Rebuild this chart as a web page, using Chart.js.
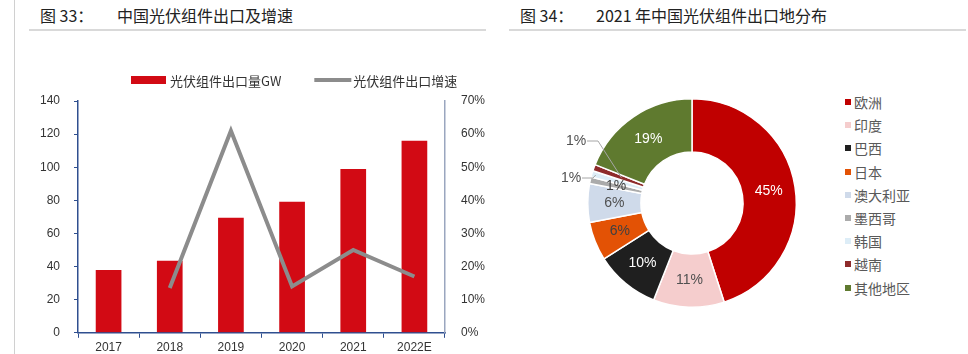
<!DOCTYPE html>
<html>
<head>
<meta charset="utf-8">
<script src="https://cdn.jsdelivr.net/npm/chart.js@4.4.1/dist/chart.umd.min.js"></script>
<style>
  body { margin: 0; width: 968px; height: 354px; background: #fff; position: relative; overflow: hidden;
         font-family: "Noto Sans CJK SC", "Liberation Sans", sans-serif; color: #222; }
  .abs { position: absolute; }
  .title { position: absolute; top: 4px; font-size: 16px; line-height: 22px; color: #222; white-space: nowrap; }
  .rule { position: absolute; top: 29px; height: 2px; background: #d9d9d9; }
  .legend-item { position: absolute; left: 845px; font-size: 14px; line-height: 20px; color: #595959; white-space: nowrap; }
  .legend-item i { display: inline-block; width: 6px; height: 6px; margin-right: 3px; vertical-align: 3px; }
</style>
</head>
<body>
<div class="abs" style="left:14px;top:0;width:1px;height:354px;background:#d0d0d0"></div>

<div class="title" style="left:40px">图 33：</div>
<div class="title" style="left:117px">中国光伏组件出口及增速</div>
<div class="rule" style="left:29px;width:457px"></div>

<div class="title" style="left:520px">图 34：</div>
<div class="title" style="left:596px">2021 年中国光伏组件出口地分布</div>
<div class="rule" style="left:509px;width:457px"></div>

<canvas id="barChart" class="abs" style="left:0;top:0" width="487" height="354"></canvas>
<canvas id="pieChart" class="abs" style="left:560px;top:70px" width="264" height="266"></canvas>
<div id="pieLegend"></div>

<script>
// 图33 数据
const years = ["2017", "2018", "2019", "2020", "2021", "2022E"];
const exportVolume = [38, 43.5, 69.5, 79.2, 99, 116];      // GW
const exportGrowth = [null, 13.5, 61, 14, 25, 17];         // %
const volumeTicks = [0, 20, 40, 60, 80, 100, 120, 140];
const growthTicks = ["0%", "10%", "20%", "30%", "40%", "50%", "60%", "70%"];

// 图34 数据
const regions = ["欧洲", "印度", "巴西", "日本", "澳大利亚", "墨西哥", "韩国", "越南", "其他地区"];
const regionShare = [45, 11, 10, 6, 6, 1, 1, 1, 19];
const regionColors = ["#c00000", "#f5cdcd", "#1f1f1f", "#e35205", "#cfdaea", "#ababab", "#ddedf7", "#8e2b2b", "#5f7a2f"];
const labelColors = ["#ffffff", "#505050", "#ffffff", "#404040", "#505050", "#404040", "#505050", "#505050", "#ffffff"];

const axisBlue = "#2f4f8f";
const numFont = { family: "Liberation Sans", size: 12 };

// 自定义图例（柱+线）
const topLegend = {
  id: "topLegend",
  afterDraw(chart) {
    const ctx = chart.ctx;
    const y = 80;
    let x = 131;
    ctx.save();
    ctx.font = '13px "Noto Sans CJK SC"';
    ctx.textBaseline = "middle";
    chart.data.datasets.slice().reverse().forEach((ds) => {
      if (ds.type === "bar") {
        ctx.fillStyle = ds.backgroundColor;
        ctx.fillRect(x, y - 4, 35, 8);
      } else {
        ctx.strokeStyle = ds.borderColor;
        ctx.lineWidth = 4;
        ctx.beginPath();
        ctx.moveTo(x, y);
        ctx.lineTo(x + 37, y);
        ctx.stroke();
      }
      x += 39;
      ctx.fillStyle = "#333";
      ctx.fillText(ds.label, x, y + 1);
      x += ctx.measureText(ds.label).width + 33;
    });
    ctx.restore();
  },
};

new Chart(document.getElementById("barChart"), {
  data: {
    labels: years,
    datasets: [
      {
        type: "line",
        label: "光伏组件出口增速",
        data: exportGrowth,
        yAxisID: "y1",
        borderColor: "#8c8c8c",
        borderWidth: 4,
        pointRadius: 0,
        tension: 0,
        order: 0,
      },
      {
        type: "bar",
        label: "光伏组件出口量GW",
        data: exportVolume,
        yAxisID: "y",
        backgroundColor: "#d20a14",
        categoryPercentage: 1,
        barPercentage: 0.42,
        order: 1,
      },
    ],
  },
  options: {
    responsive: false,
    animation: false,
    layout: { padding: { top: 101, left: 0, right: 0, bottom: 0 } },
    plugins: { legend: { display: false }, tooltip: { enabled: false } },
    scales: {
      x: {
        grid: { drawOnChartArea: false, tickLength: 5, color: axisBlue, offset: true },
        border: { color: axisBlue, width: 1.5 },
        ticks: { color: "#333", font: { family: "Liberation Sans", size: 12 }, padding: 3 },
        afterFit: (s) => { s.height = 19; },
      },
      y: {
        position: "left",
        min: 0,
        max: 140,
        afterBuildTicks: (s) => { s.ticks = volumeTicks.map((v) => ({ value: v })); },
        grid: { drawOnChartArea: false, tickLength: 4, color: axisBlue },
        border: { color: axisBlue, width: 1.5 },
        ticks: { color: "#333", font: numFont, padding: 14 },
        afterFit: (s) => { s.width = 78; },
      },
      y1: {
        position: "right",
        min: 0,
        max: 70,
        afterBuildTicks: (s) => { s.ticks = growthTicks.map((t, i) => ({ value: i * 10 })); },
        grid: { display: false },
        border: { color: "#9aa6bf", width: 1.5 },
        ticks: { color: "#333", font: numFont, padding: 8, callback: (v, i) => growthTicks[i] },
        afterFit: (s) => { s.width = 42; },
      },
    },
  },
  plugins: [topLegend],
});

// 环形图标签
const sliceLabels = {
  id: "sliceLabels",
  afterDatasetsDraw(chart) {
    const ctx = chart.ctx;
    const arcs = chart.getDatasetMeta(0).data;
    // 小扇区的外部标签（相对圆心偏移）
    const outside = { 6: { dx: -121, dy: -25 }, 7: { dx: -116, dy: -62 } };
    ctx.save();
    ctx.font = '14px "Liberation Sans"';
    ctx.textAlign = "center";
    ctx.textBaseline = "middle";
    arcs.forEach((arc, i) => {
      const { x, y, startAngle, endAngle, innerRadius, outerRadius } = arc.getProps(
        ["x", "y", "startAngle", "endAngle", "innerRadius", "outerRadius"], true);
      const mid = (startAngle + endAngle) / 2;
      const text = regionShare[i] + "%";
      if (outside[i]) {
        const lx = x + outside[i].dx, ly = y + outside[i].dy;
        const r = i === 7 ? 75 : outerRadius - 4;
        ctx.strokeStyle = "#a6a6a6";
        ctx.lineWidth = 1;
        ctx.beginPath();
        ctx.moveTo(lx + 11, ly);
        ctx.lineTo(lx + 22, ly);
        ctx.lineTo(x + Math.cos(mid) * r, y + Math.sin(mid) * r);
        ctx.stroke();
        ctx.fillStyle = "#505050";
        ctx.fillText(text, lx, ly);
      } else {
        const r = (innerRadius + outerRadius) / 2;
        ctx.fillStyle = labelColors[i];
        ctx.fillText(text, x + Math.cos(mid) * r, y + Math.sin(mid) * r);
      }
    });
    ctx.restore();
  },
};

new Chart(document.getElementById("pieChart"), {
  type: "doughnut",
  data: {
    labels: regions,
    datasets: [{ data: regionShare, backgroundColor: regionColors, borderColor: "#fff", borderWidth: 1.5 }],
  },
  options: {
    responsive: false,
    animation: false,
    cutout: "49%",
    layout: { padding: { left: 27, right: 27, top: 28, bottom: 28 } },
    plugins: { legend: { display: false }, tooltip: { enabled: false } },
  },
  plugins: [sliceLabels],
});

// 右侧图例
const legendBox = document.getElementById("pieLegend");
regions.forEach((name, i) => {
  const item = document.createElement("div");
  item.className = "legend-item";
  item.style.top = (92 + i * 23.2) + "px";
  item.innerHTML = '<i style="background:' + regionColors[i] + '"></i>' + name;
  legendBox.appendChild(item);
});
</script>
</body>
</html>
